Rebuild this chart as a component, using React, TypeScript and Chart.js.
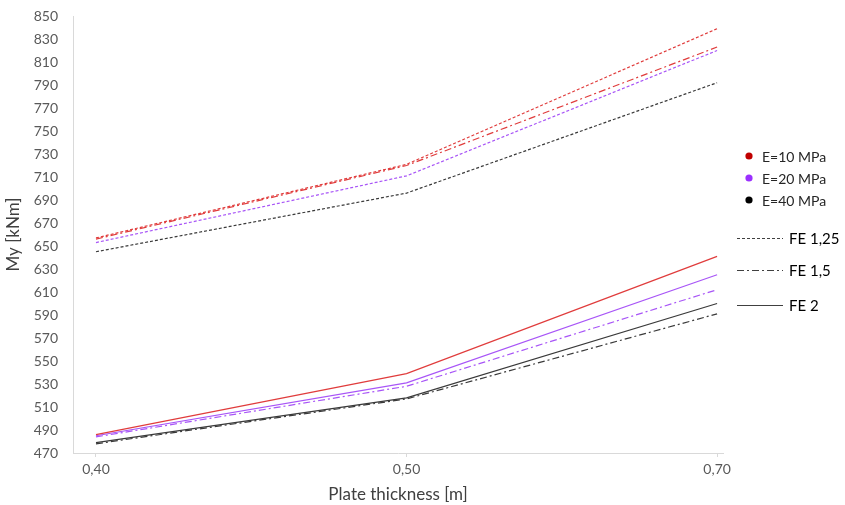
import React, { useEffect, useRef } from "react";
import { Chart, registerables } from "chart.js";

Chart.register(...registerables);

const categories = ["0,40", "0,50", "0,70"];

// E=10 MPa (red)
const e10_fe125 = [657, 721, 839];
const e10_fe15 = [656, 720, 823];
const e10_fe2 = [486, 539, 641];
// E=20 MPa (purple)
const e20_fe125 = [653, 711, 820];
const e20_fe15 = [484, 528, 612];
const e20_fe2 = [485, 531, 625];
// E=40 MPa (black)
const e40_fe125 = [645, 696, 792];
const e40_fe15 = [478, 517, 591];
const e40_fe2 = [479, 518, 600];

const yTicks = { min: 470, max: 850, step: 20 };

const RED = "#e03c3c";
const PURPLE = "#a855f7";
const BLACK = "#3a3a3a";

const DOT = [3, 2];
const DASHDOT = [7, 3, 2, 3];
const SOLID: number[] = [];

const legendE = [
  { label: "E=10 MPa", color: "#c00000" },
  { label: "E=20 MPa", color: "#9b30ff" },
  { label: "E=40 MPa", color: "#000000" },
];
const legendFE = [
  { label: "FE 1,25", dash: DOT },
  { label: "FE 1,5", dash: DASHDOT },
  { label: "FE 2", dash: SOLID },
];

const FONT = "Lato, 'Open Sans', sans-serif";

function ds(label: string, values: number[], color: string, dash: number[]) {
  return {
    label,
    data: values.map((v, i) => ({ x: i, y: v })),
    borderColor: color,
    backgroundColor: color,
    borderWidth: 1.2,
    borderDash: dash,
    pointRadius: 0,
    fill: false,
    tension: 0,
  };
}

const legendPlugin = {
  id: "customLegend",
  afterDraw(chart: any) {
    const ctx = chart.ctx;
    ctx.save();
    ctx.textBaseline = "middle";
    ctx.textAlign = "left";
    const eY = [156, 178, 200];
    legendE.forEach((it, i) => {
      ctx.beginPath();
      ctx.fillStyle = it.color;
      ctx.arc(749, eY[i], 3.6, 0, Math.PI * 2);
      ctx.fill();
      ctx.fillStyle = "#262626";
      ctx.font = `14px ${FONT}`;
      ctx.fillText(it.label, 762, eY[i] + 1);
    });
    const fY = [238, 270, 305];
    legendFE.forEach((it, i) => {
      ctx.beginPath();
      ctx.strokeStyle = "#404040";
      ctx.lineWidth = 1;
      ctx.setLineDash(it.dash);
      ctx.moveTo(737, fY[i] + 0.5);
      ctx.lineTo(783, fY[i] + 0.5);
      ctx.stroke();
      ctx.setLineDash([]);
      ctx.fillStyle = "#000000";
      ctx.font = `15px ${FONT}`;
      ctx.fillText(it.label, 789, fY[i] + 1);
    });
    ctx.restore();
  },
};

export default function App() {
  const ref = useRef<HTMLCanvasElement | null>(null);
  useEffect(() => {
    if (!ref.current) return;
    const chart = new Chart(ref.current, {
      type: "line",
      data: {
        datasets: [
          ds("E=10 FE 1,25", e10_fe125, RED, DOT),
          ds("E=10 FE 1,5", e10_fe15, RED, DASHDOT),
          ds("E=10 FE 2", e10_fe2, RED, SOLID),
          ds("E=20 FE 1,25", e20_fe125, PURPLE, DOT),
          ds("E=20 FE 1,5", e20_fe15, PURPLE, DASHDOT),
          ds("E=20 FE 2", e20_fe2, PURPLE, SOLID),
          ds("E=40 FE 1,25", e40_fe125, BLACK, DOT),
          ds("E=40 FE 1,5", e40_fe15, BLACK, DASHDOT),
          ds("E=40 FE 2", e40_fe2, BLACK, SOLID),
        ],
      },
      options: {
        responsive: false,
        animation: false,
        layout: { padding: { left: 0, right: 122, top: 16, bottom: 0 } },
        plugins: { legend: { display: false }, tooltip: { enabled: false } },
        scales: {
          x: {
            type: "linear",
            min: -0.074,
            max: 2.019,
            afterBuildTicks: (scale: any) => {
              scale.ticks = categories.map((_, i) => ({ value: i }));
            },
            afterFit: (scale: any) => {
              scale.height = 52;
              scale.paddingLeft = 0;
              scale.paddingRight = 0;
            },
            grid: {
              drawOnChartArea: false,
              drawTicks: true,
              tickLength: 4,
              color: "#d9d9d9",
            },
            border: { display: true, color: "#d9d9d9", width: 1 },
            ticks: {
              padding: 4,
              color: "#595959",
              font: { size: 14, family: FONT },
              maxRotation: 0,
              callback: (v: any) => categories[Math.round(Number(v))] ?? "",
            },
            title: {
              display: true,
              text: "Plate thickness [m]",
              color: "#404040",
              font: { size: 17, family: FONT },
              padding: { top: 2, bottom: 0 },
            },
          },
          y: {
            type: "linear",
            min: yTicks.min,
            max: yTicks.max,
            afterFit: (scale: any) => {
              scale.width = 73;
              scale.paddingTop = 0;
              scale.paddingBottom = 0;
            },
            grid: { display: false, drawTicks: false },
            border: { display: true, color: "#d9d9d9", width: 1 },
            ticks: {
              stepSize: yTicks.step,
              padding: 15,
              color: "#595959",
              font: { size: 14, family: FONT },
            },
            title: {
              display: true,
              text: "My [kNm]",
              color: "#404040",
              font: { size: 17, family: FONT },
              padding: { top: 3, bottom: 0 },
            },
          },
        },
      },
      plugins: [legendPlugin],
    } as any);
    return () => chart.destroy();
  }, []);
  return (
    <div style={{ position: "fixed", left: 0, top: 0, width: 845, height: 505, background: "#fff" }}>
      <canvas ref={ref} width={845} height={505} style={{ width: 845, height: 505 }} />
    </div>
  );
}
